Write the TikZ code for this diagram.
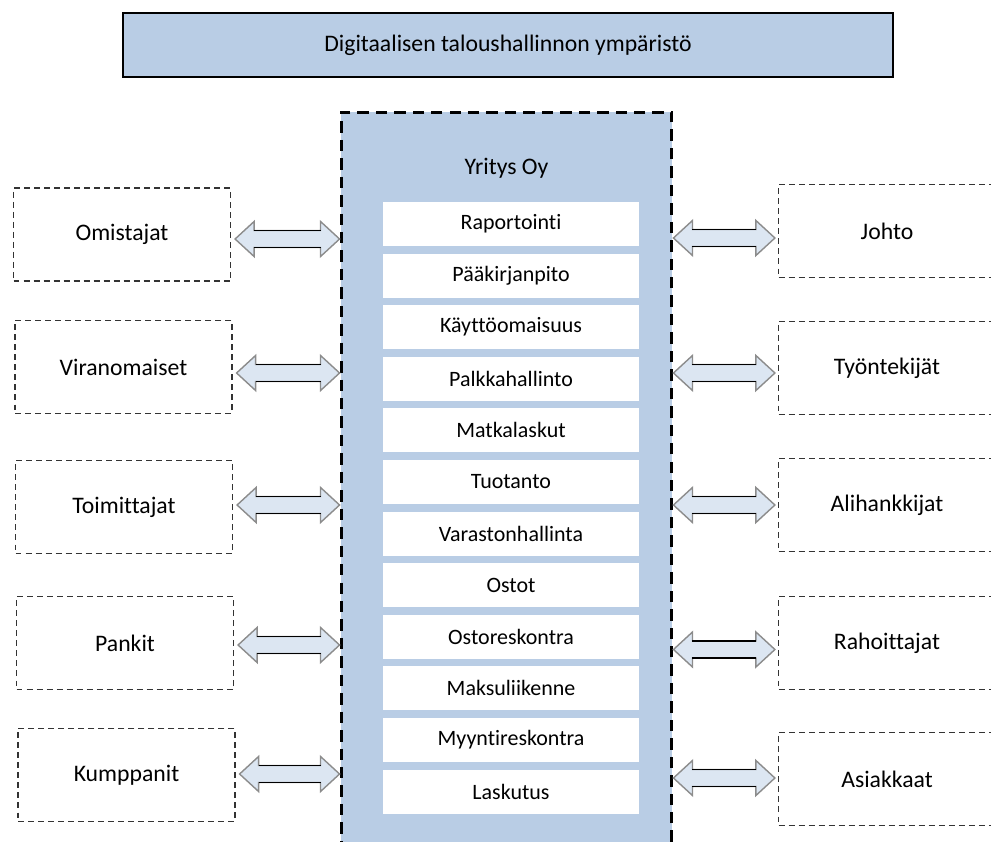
\documentclass[tikz,border=0pt]{standalone}
\usepackage{fontspec}
\setmainfont{Carlito}[Ligatures={NoCommon,NoContextual}, Contextuals=NoAlternate]
\usepackage{xcolor}
\usetikzlibrary{positioning,calc}

\definecolor{paneblue}{HTML}{B9CDE5}
\definecolor{flowblue}{HTML}{DCE6F2}

% block arrow with two heads: left end, right end, height
\newcommand\twoway[3]{%
  \draw[flowarr] let \p1=(#1), \p2=(#2), \p3=(#3) in
    (\x1,\y3) -- (\x1+0.38cm,\y3+0.35cm) -- (\x1+0.38cm,\y3+0.17cm)
    -- (\x2-0.38cm,\y3+0.17cm) -- (\x2-0.38cm,\y3+0.35cm) -- (\x2,\y3)
    -- (\x2-0.38cm,\y3-0.35cm) -- (\x2-0.38cm,\y3-0.17cm)
    -- (\x1+0.38cm,\y3-0.17cm) -- (\x1+0.38cm,\y3-0.35cm) -- cycle;
  \draw[shaft] let \p1=(#1), \p2=(#2), \p3=(#3) in
    (\x1+0.38cm,\y3+0.17cm) -- (\x2-0.38cm,\y3+0.17cm)
    (\x1+0.38cm,\y3-0.17cm) -- (\x2-0.38cm,\y3-0.17cm);}

\begin{document}
\begin{tikzpicture}[
    x=0.02cm, y=-0.02cm,
    font=\fontsize{13.5}{16}\selectfont,
    banner/.style={draw=black, line width=1.6pt, fill=paneblue, minimum width=15.4cm, minimum height=1.28cm},
    core/.style={draw=black, line width=1.7pt, dash pattern=on 6.5pt off 4pt, fill=paneblue, minimum width=6.62cm, minimum height=15.36cm},
    module/.style={fill=white, minimum width=5.14cm, minimum height=0.88cm, font=\fontsize{12.5}{15}\selectfont},
    party/.style={draw=black!80, line width=0.7pt, dash pattern=on 3.4pt off 2.3pt, minimum width=4.34cm, minimum height=1.86cm},
    flowarr/.style={draw=black!45, line width=0.8pt, fill=flowblue, line join=miter},
    shaft/.style={draw=black, line width=1pt},
  ]
    \useasboundingbox (0,0) rectangle (991,842);
    \clip (0,0) rectangle (991,842);

    % ---------- frame ----------
    \node[banner] (env) at (508,45) {Digitaalisen taloushallinnon ympäristö};
    \node[core] (core) at (506.5,496) {};
    \node (firm) at (506.5,168) {Yritys Oy};

    % ---------- modules ----------
    \foreach \lbl [count=\i] in {Raportointi, Pääkirjanpito, Käyttöomaisuus, Palkkahallinto,
        Matkalaskut, Tuotanto, Varastonhallinta, Ostot, Ostoreskontra, Maksuliikenne,
        Myyntireskontra, Laskutus}
      \node[module] (m\i) at (511,{224+51.6*(\i-1)}) {\lbl};

    % ---------- stakeholders ----------
    \node[party] (omi) at (122,234.5) {Omistajat};
    \node[party] (vir) at (123.5,367) {Viranomaiset};
    \node[party] (toi) at (124,507) {Toimittajat};
    \node[party] (pan) at (125,643) {Pankit};
    \node[party] (kum) at (126.5,775) {Kumppanit};

    \node[party] (joh) at (887,231) {Johto};
    \node[party] (tyo) at (887,368) {Työntekijät};
    \node[party] (ali) at (887,505) {Alihankkijat};
    \node[party] (rah) at (887,643) {Rahoittajat};
    \node[party] (asi) at (887,779) {Asiakkaat};

    % ---------- links ----------
    \foreach \who/\dy in {omi/4.5, vir/6, toi/-2, pan/2, kum/-1}
      \twoway{$(\who.east)+(4,0)$}{core.west}{$(\who)+(0,\dy)$};
    \foreach \who/\dy in {joh/7, tyo/5, ali/0, rah/6.5, asi/-1}
      \twoway{core.east}{$(\who.west)+(-3,0)$}{$(\who)+(0,\dy)$};
\end{tikzpicture}
\end{document}
